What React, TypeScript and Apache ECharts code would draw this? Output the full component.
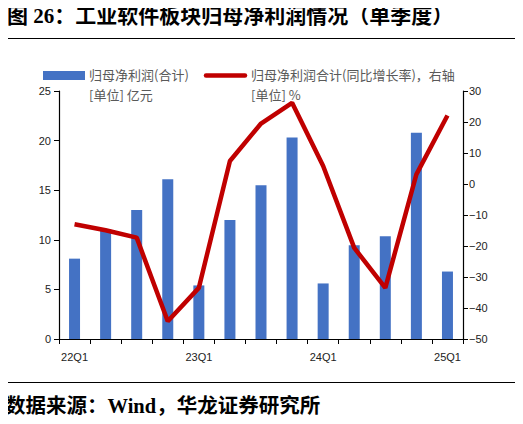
import React, { useEffect, useRef } from "react";
import * as echarts from "echarts";

const categories = ["22Q1","22Q2","22Q3","22Q4","23Q1","23Q2","23Q3","23Q4","24Q1","24Q2","24Q3","24Q4","25Q1"];
const profit = [8.1, 11.1, 13.0, 16.1, 5.4, 12.0, 15.5, 20.3, 5.6, 9.45, 10.35, 20.8, 6.8];
const growth = [-13.0, -14.9, -17.3, -44.3, -33.5, 7.4, 19.5, 26.2, 5.8, -20.6, -33.5, 3.1, 22.1];
const leftTicks = { min: 0, max: 25, interval: 5 };
const rightTicks = { min: -50, max: 30, interval: 10 };
const titleText = "图 26：工业软件板块归母净利润情况（单季度）";
const sourceText = "数据来源：Wind，华龙证券研究所";
const barName = "归母净利润(合计)";
const barUnit = "[单位] 亿元";
const lineName = "归母净利润合计(同比增长率)，右轴";
const lineUnit = "[单位] %";

const BLUE = "#4472C4";
const RED = "#C00000";
const HEAD_FONT = '"Liberation Serif", "Noto Sans CJK SC", serif';
const CJK_FONT = '"Noto Sans CJK SC", sans-serif';
const AX_FONT = '"Liberation Sans", Arial, sans-serif';

export default function App() {
  const ref = useRef<HTMLDivElement>(null);
  useEffect(() => {
    const chart = echarts.init(ref.current!, null, { renderer: "svg" });
    const legendStyle = {
      fontSize: 13, lineHeight: 14, fill: "#595959", fontFamily: CJK_FONT,
      textVerticalAlign: "middle", verticalAlign: "middle",
    };
    chart.setOption({
      animation: false,
      backgroundColor: "#fff",
      grid: { left: 59, right: 60, top: 91, bottom: 85, containLabel: false },
      xAxis: {
        type: "category",
        data: categories,
        boundaryGap: true,
        axisLine: { lineStyle: { color: "#000", width: 1.2 } },
        axisTick: { show: true, interval: 0, length: 5, lineStyle: { color: "#000" } },
        axisLabel: { interval: 3, color: "#222", fontSize: 11, fontFamily: AX_FONT, margin: 12 },
      },
      yAxis: [
        {
          type: "value",
          ...leftTicks,
          splitLine: { show: false },
          axisLine: { show: true, lineStyle: { color: "#000", width: 1.2 } },
          axisTick: { show: true, length: 5, lineStyle: { color: "#000" } },
          axisLabel: { color: "#222", fontSize: 11, fontFamily: AX_FONT, margin: 8 },
        },
        {
          type: "value",
          ...rightTicks,
          position: "right",
          splitLine: { show: false },
          axisLine: { show: true, lineStyle: { color: "#000", width: 1.2 } },
          axisTick: { show: true, length: 5, lineStyle: { color: "#000" } },
          axisLabel: {
            color: "#222", fontSize: 11, fontFamily: AX_FONT, margin: 6,
            formatter: (v: number) => (v < 0 ? "\u2212" + Math.abs(v) : String(v)),
          },
        },
      ],
      series: [
        {
          name: barName,
          type: "bar",
          data: profit,
          barWidth: 11,
          itemStyle: { color: BLUE },
          yAxisIndex: 0,
        },
        {
          name: lineName,
          type: "line",
          data: growth,
          yAxisIndex: 1,
          symbol: "none",
          lineStyle: { color: RED, width: 4.5 },
          z: 5,
        },
      ],
      graphic: [
        { type: "text", left: 7, top: 5, style: { text: titleText, fontSize: 21, fontWeight: "bold", fill: "#000", fontFamily: HEAD_FONT } },
        { type: "line", shape: { x1: 5, y1: 38.5, x2: 515, y2: 38.5 }, style: { stroke: "#000", lineWidth: 1 } },
        { type: "rect", shape: { x: 43, y: 71, width: 42, height: 9 }, style: { fill: BLUE } },
        { type: "text", x: 89, y: 74.5, style: { text: barName, ...legendStyle } },
        { type: "text", x: 89, y: 94, style: { text: barUnit, ...legendStyle } },
        { type: "line", shape: { x1: 206, y1: 75.5, x2: 245, y2: 75.5 }, style: { stroke: RED, lineWidth: 4.5, lineCap: "round" } },
        { type: "text", x: 251, y: 74.5, style: { text: lineName, ...legendStyle } },
        { type: "text", x: 251, y: 94, style: { text: lineUnit, ...legendStyle } },
        { type: "line", shape: { x1: 5, y1: 382.5, x2: 515, y2: 382.5 }, style: { stroke: "#000", lineWidth: 1 } },
        { type: "text", left: 5, top: 396, style: { text: sourceText, fontSize: 20.5, fontWeight: "bold", fill: "#000", fontFamily: HEAD_FONT } },
      ],
    });
    return () => chart.dispose();
  }, []);
  return <div ref={ref} style={{ width: 523, height: 424, margin: -8 }} />;
}
